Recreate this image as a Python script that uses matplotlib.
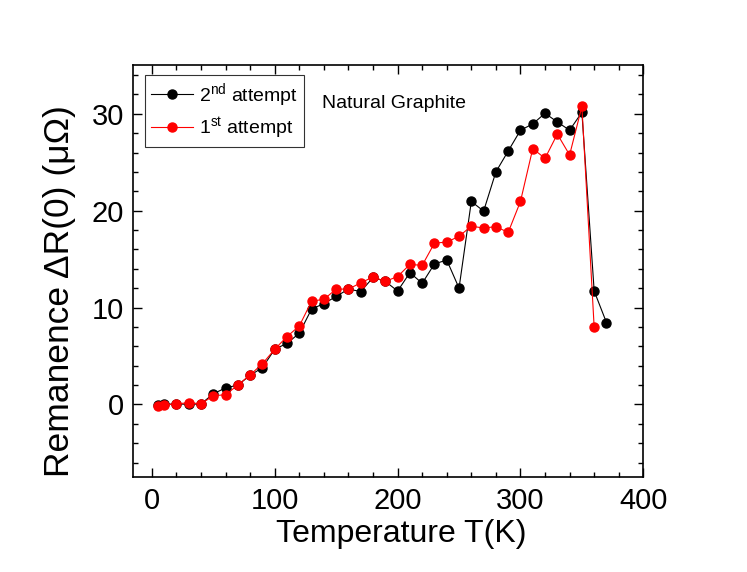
import matplotlib
matplotlib.use("Agg")
import matplotlib.pyplot as plt
from matplotlib.ticker import MultipleLocator

plt.rcParams['font.family'] = ['Liberation Sans', 'DejaVu Sans']
plt.rcParams['mathtext.fontset'] = 'custom'
plt.rcParams['mathtext.rm'] = 'Liberation Sans'
plt.rcParams['mathtext.it'] = 'Liberation Sans:italic'

# ---- data ----
temp_2nd = [5, 10, 20, 30, 40, 50, 60, 70, 80, 90, 100, 110, 120, 130, 140, 150, 160,
            170, 180, 190, 200, 210, 220, 230, 240, 250, 260, 270, 280, 290, 300, 310,
            320, 330, 340, 350, 360, 370]
rem_2nd = [-0.05, 0.0, 0.05, 0.0, 0.05, 1.1, 1.7, 2.0, 3.0, 3.8, 5.7, 6.3, 7.35, 9.85,
           10.4, 11.15, 11.9, 11.65, 13.1, 12.7, 11.7, 13.6, 12.5, 14.5, 14.9, 12.0,
           20.95, 19.95, 24.0, 26.15, 28.3, 28.95, 30.05, 29.15, 28.3, 30.15, 11.7, 8.45]

temp_1st = [5, 10, 20, 30, 40, 50, 60, 70, 80, 90, 100, 110, 120, 130, 140, 150, 160,
            170, 180, 190, 200, 210, 220, 230, 240, 250, 260, 270, 280, 290, 300, 310,
            320, 330, 340, 350, 360]
rem_1st = [-0.18, -0.07, 0.06, 0.17, 0.06, 0.89, 1.0, 2.0, 3.05, 4.2, 5.7, 7.0, 8.1,
           10.65, 10.85, 11.9, 11.9, 12.55, 13.15, 12.7, 13.2, 14.45, 14.35, 16.65,
           16.75, 17.35, 18.4, 18.2, 18.35, 17.75, 20.95, 26.4, 25.4, 27.9, 25.75,
           30.75, 7.95]

labels = ["2$^{\\mathrm{nd}}$ attempt", "1$^{\\mathrm{st}}$ attempt"]

fig = plt.figure(figsize=(7.47, 5.72), dpi=100)
ax = fig.add_axes([0.1787, 0.166, 0.6825, 0.7198])

ax.plot(temp_2nd, rem_2nd, '-o', color='black', lw=0.8, ms=6.5, label=labels[0], zorder=3)
ax.plot(temp_1st, rem_1st, '-o', color='#ff0000', lw=0.8, ms=6.5, label=labels[1], zorder=4)

ax.set_xlim(-15, 400)
ax.set_ylim(-7.5, 35)
ax.xaxis.set_major_locator(MultipleLocator(100))
ax.xaxis.set_minor_locator(MultipleLocator(20))
ax.yaxis.set_major_locator(MultipleLocator(10))
ax.yaxis.set_minor_locator(MultipleLocator(2))

for s in ax.spines.values():
    s.set_linewidth(1.2)
ax.tick_params(which='both', direction='in', top=True, right=True, width=1.0)
ax.tick_params(which='major', length=6.5, labelsize=21, pad=7)
ax.tick_params(which='minor', length=3.3)

ax.set_xlabel("Temperature T(K)", fontsize=23)
ax.xaxis.set_label_coords(0.525, -0.103)
ax.set_ylabel("Remanence ΔR(0) (μΩ)", fontsize=25.5)
ax.yaxis.set_label_coords(-0.113, 0.452)

leg = ax.legend(loc='upper left', bbox_to_anchor=(0.022, 0.976), borderaxespad=0,
                fontsize=14, frameon=True, fancybox=False, edgecolor='black',
                handlelength=2.2, handletextpad=0.3, borderpad=0.3, labelspacing=0.35)
leg.get_frame().set_linewidth(0.8)

ax.text(0.37, 0.908, "Natural Graphite", transform=ax.transAxes, fontsize=14,
        va='center', ha='left')

fig.savefig("out.png", dpi=100)
